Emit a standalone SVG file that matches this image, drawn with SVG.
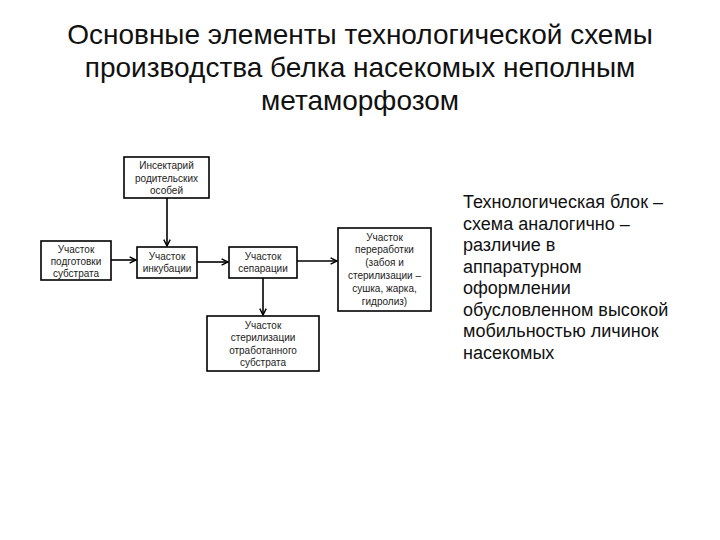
<svg xmlns="http://www.w3.org/2000/svg" width="720" height="540" viewBox="0 0 720 540">
<defs>
<style>
.box{fill:#fff;stroke:#000;stroke-width:1.6}
.bt{font-family:"Liberation Sans",Arial,sans-serif;font-size:10px;fill:#222;text-anchor:middle}
.title{font-family:"Liberation Sans",Arial,sans-serif;font-size:28px;fill:#111;text-anchor:middle}
.side{font-family:"Liberation Sans",Arial,sans-serif;font-size:18px;fill:#111}
.con{stroke:#000;stroke-width:1.6;fill:none;marker-end:url(#ah)}
</style>
<marker id="ah" viewBox="0 0 10 10" refX="9" refY="5" markerWidth="8" markerHeight="8" markerUnits="userSpaceOnUse" orient="auto">
<path d="M1,1 L9,5 L1,9" fill="none" stroke="#000" stroke-width="1.8"/>
</marker>
</defs>
<rect width="720" height="540" fill="#fff"/>
<g id="title">
<text class="title" x="360" y="44">Основные элементы технологической схемы</text>
<text class="title" x="360" y="77">производства белка насекомых неполным</text>
<text class="title" x="360" y="110">метаморфозом</text>
</g>
<g id="connectors">
<line class="con" x1="167" y1="198" x2="167" y2="246"/>
<line class="con" x1="111" y1="260" x2="136" y2="260"/>
<line class="con" x1="197" y1="262" x2="228" y2="262"/>
<line class="con" x1="297" y1="261" x2="337" y2="261"/>
<line class="con" x1="263" y1="278" x2="263" y2="315"/>
</g>
<g id="n1">
<rect class="box" x="124" y="157" width="85" height="41"/>
<text class="bt" x="166.5" y="169">Инсектарий</text>
<text class="bt" x="166.5" y="181.5">родительских</text>
<text class="bt" x="166.5" y="194">особей</text>
</g>
<g id="n2">
<rect class="box" x="41" y="241" width="70" height="39"/>
<text class="bt" x="76" y="252.5">Участок</text>
<text class="bt" x="76" y="264.5">подготовки</text>
<text class="bt" x="76" y="276.5">субстрата</text>
</g>
<g id="n3">
<rect class="box" x="137" y="247" width="60" height="31"/>
<text class="bt" x="167" y="259.5">Участок</text>
<text class="bt" x="167" y="271.5">инкубации</text>
</g>
<g id="n4">
<rect class="box" x="229" y="247" width="68" height="31"/>
<text class="bt" x="263" y="259.5">Участок</text>
<text class="bt" x="263" y="271.5">сепарации</text>
</g>
<g id="n5">
<rect class="box" x="338" y="228" width="93" height="83"/>
<text class="bt" x="384.5" y="240.5">Участок</text>
<text class="bt" x="384.5" y="253.3">переработки</text>
<text class="bt" x="384.5" y="266.1">(забоя и</text>
<text class="bt" x="384.5" y="278.9">стерилизации –</text>
<text class="bt" x="384.5" y="291.7">сушка, жарка,</text>
<text class="bt" x="384.5" y="304.5">гидролиз)</text>
</g>
<g id="n6">
<rect class="box" x="207" y="316" width="112" height="55"/>
<text class="bt" x="263" y="328.5">Участок</text>
<text class="bt" x="263" y="341">стерилизации</text>
<text class="bt" x="263" y="353.5">отработанного</text>
<text class="bt" x="263" y="366">субстрата</text>
</g>
<g id="side">
<text class="side" x="463" y="208">Технологическая блок –</text>
<text class="side" x="463" y="229.5">схема аналогично –</text>
<text class="side" x="463" y="251">различие в</text>
<text class="side" x="463" y="272.5">аппаратурном</text>
<text class="side" x="463" y="294">оформлении</text>
<text class="side" x="463" y="315.5">обусловленном высокой</text>
<text class="side" x="463" y="337">мобильностью личинок</text>
<text class="side" x="463" y="358.5">насекомых</text>
</g>
</svg>
